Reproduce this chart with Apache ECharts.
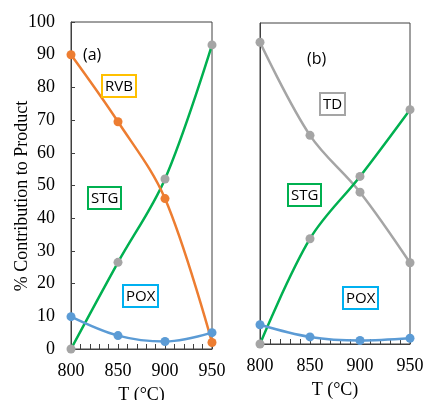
<!DOCTYPE html>
<html lang="en">

<head>
    <meta charset="UTF-8">
    <title>Contribution to Product</title>
    <script src="https://cdn.jsdelivr.net/npm/echarts@6/dist/echarts.min.js"></script>
    <style>
        body { margin: 0; background: #fff; }
    </style>
</head>

<body>

    <div id="main" style="width: 426px;height: 400px;"></div>

    <script type="text/javascript">
        // temperatures (°C)
        var temps = [800, 850, 900, 950];
        var yTicks = [0, 10, 20, 30, 40, 50, 60, 70, 80, 90, 100];

        // panel (a)
        var rvbA = [90, 69.5, 46, 2];
        var stgA = [0, 26.5, 52, 93];
        var poxA = [9.9, 4.1, 2.3, 5.0];

        // panel (b)
        var tdB = [94, 65, 47.3, 25.3];
        var stgB = [0, 32.8, 52.2, 73];
        var poxB = [6.0, 2.2, 1.1, 1.8];

        var myChart = echarts.init(document.getElementById('main'));

        var serif = 'Liberation Serif';
        var sans = 'Open Sans';
        var boxColor = '#404040';

        function pairs(vals) {
            return temps.map(function (t, i) { return [t, vals[i]]; });
        }

        function xAx(grid) {
            return {
                type: 'value', gridIndex: grid,
                min: 800, max: 950, interval: 50,
                name: 'T (°C)', nameLocation: 'middle', nameGap: 37,
                nameTextStyle: { fontFamily: serif, fontSize: 18, color: '#000' },
                axisLine: { lineStyle: { color: boxColor, width: 1 } },
                axisTick: { inside: true, length: 5, lineStyle: { color: boxColor } },
                minorTick: { show: true, splitNumber: 5, length: 5, lineStyle: { color: boxColor } },
                axisLabel: { fontFamily: serif, fontSize: 18, color: '#000', margin: 13 },
                splitLine: { show: false }
            };
        }

        function line(name, data, grid, lineColor, dotColor) {
            return {
                name: name, type: 'line',
                xAxisIndex: grid, yAxisIndex: grid,
                data: pairs(data),
                smooth: 0.35,
                symbol: 'circle', symbolSize: 9,
                lineStyle: { color: lineColor, width: 2.5 },
                itemStyle: { color: dotColor },
                emphasis: { disabled: true }
            };
        }

        function tag(text, left, top, color) {
            return {
                text: text, left: left, top: top,
                padding: [4, 3, 3, 3],
                borderColor: color, borderWidth: 2,
                textStyle: { fontFamily: sans, fontSize: 15, fontWeight: 'normal', color: '#000' }
            };
        }

        var option = {
            animation: false,
            title: [
                { text: '(a)', left: 83, top: 47, padding: 0,
                  textStyle: { fontFamily: sans, fontSize: 16, fontWeight: 'normal', color: '#000' } },
                { text: '(b)', left: 307, top: 51, padding: 0,
                  textStyle: { fontFamily: sans, fontSize: 16, fontWeight: 'normal', color: '#000' } },
                tag('RVB', 102, 75, '#FFC000'),
                tag('STG', 88, 187, '#00B050'),
                tag('POX', 123, 285, '#00B0F0'),
                tag('TD', 320, 93, '#A5A5A5'),
                tag('STG', 288, 184, '#00B050'),
                tag('POX', 343, 287, '#00B0F0')
            ],
            graphic: [{
                type: 'text', x: 22, y: 196, rotation: Math.PI / 2,
                style: {
                    text: '% Contribution to Product', fill: '#000',
                    font: '18px "Liberation Serif"', align: 'center', verticalAlign: 'middle'
                }
            }],
            grid: [
                { left: 71, top: 22, width: 141, height: 327, outerBoundsMode: 'none',
                  show: true, borderColor: boxColor, borderWidth: 1 },
                { left: 260, top: 23, width: 150, height: 321, outerBoundsMode: 'none',
                  show: true, borderColor: boxColor, borderWidth: 1 }
            ],
            xAxis: [xAx(0), xAx(1)],
            yAxis: [{
                    type: 'value', gridIndex: 0,
                    min: yTicks[0], max: yTicks[yTicks.length - 1], interval: 10,
                    axisLine: { lineStyle: { color: boxColor, width: 1 } },
                    axisTick: { inside: true, length: 4, lineStyle: { color: boxColor } },
                    axisLabel: { fontFamily: serif, fontSize: 18, color: '#000', margin: 16 },
                    splitLine: { show: false }
                },
                {
                    type: 'value', gridIndex: 1,
                    min: 0, max: 100, interval: 10,
                    axisLine: { lineStyle: { color: boxColor, width: 1 } },
                    axisTick: { show: false },
                    axisLabel: { show: false },
                    splitLine: { show: false }
                }
            ],
            series: [
                line('STG', stgA, 0, '#00B050', '#A5A5A5'),
                line('RVB', rvbA, 0, '#ED7D31', '#ED7D31'),
                line('POX', poxA, 0, '#5B9BD5', '#5B9BD5'),
                line('TD', tdB, 1, '#A5A5A5', '#A5A5A5'),
                line('STG', stgB, 1, '#00B050', '#A5A5A5'),
                line('POX', poxB, 1, '#5B9BD5', '#5B9BD5')
            ]
        };

        myChart.setOption(option);
    </script>

</body>

</html>
